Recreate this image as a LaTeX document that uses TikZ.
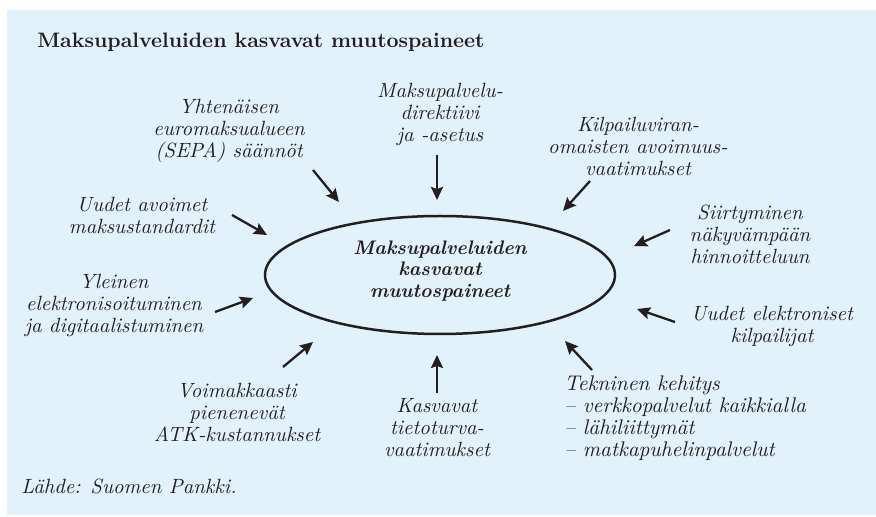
\documentclass[tikz,border=0pt]{standalone}
\usetikzlibrary{arrows.meta}
\usetikzlibrary{shapes}

\definecolor{panelblue}{RGB}{226,242,250}
\definecolor{inkgray}{RGB}{35,31,32}

\begin{document}
\begin{tikzpicture}[x = 0.5pt, y = -0.5pt, font=\rmfamily, color=inkgray]
	\tikzstyle{causeStyle} = [align = center, inner sep = 0pt, font = \fontsize{10.3}{11}\selectfont\itshape]
	\tikzstyle{listStyle} = [align = left, inner sep = 0pt, font = \fontsize{10.6}{11}\selectfont\itshape]
	\tikzstyle{coreStyle} = [shape = ellipse, draw, line width = 1.25pt, minimum width = 350pt*0.5, minimum height = 118pt*0.5, inner sep = 0pt]
	\tikzstyle{pushStyle} = [line width = 1.15pt, -{Stealth[length = 6.5pt, width = 6pt, inset = 1pt]}]
	\useasboundingbox (0,0) rectangle (876,517);
	\fill[panelblue] (7,10) rectangle (876,515);
	\node[anchor = base west, inner sep = 0pt, font = \fontsize{10.45}{14}\selectfont\bfseries] (title) at (37,48) {Maksupalveluiden kasvavat muutospaineet};
	\node[coreStyle] (core) at (440,275) {};
	\node[causeStyle, font = \fontsize{9.8}{10.8}\selectfont\bfseries\itshape] (coretext) at (440,271) {Maksupalveluiden\\kasvavat\\muutospaineet};
	\node[causeStyle] (sepa) at (229,131) {Yhtenäisen\\euromaksualueen\\(SEPA) säännöt};
	\node[causeStyle] (direktiivi) at (440,114) {Maksupalvelu-\\direktiivi\\ja -asetus};
	\node[causeStyle] (kilpailu) at (638,146) {Kilpailuviran-\\omaisten avoimuus-\\vaatimukset};
	\node[causeStyle] (hinnoittelu) at (750,234) {Siirtyminen\\näkyvämpään\\hinnoitteluun};
	\node[causeStyle] (standardit) at (142,215) {Uudet avoimet\\maksustandardit};
	\node[causeStyle] (digitaali) at (114,305) {Yleinen\\elektronisoituminen\\ja digitaalistuminen};
	\node[causeStyle] (kilpailijat) at (772,326) {Uudet elektroniset\\kilpailijat};
	\node[listStyle, anchor = west] (tekninen) at (564,418) {Tekninen kehitys\\-- verkkopalvelut kaikkialla\\-- lähiliittymät\\-- matkapuhelinpalvelut};
	\node[causeStyle] (tietoturva) at (437,428) {Kasvavat\\tietoturva-\\vaatimukset};
	\node[causeStyle] (atk) at (237,412) {Voimakkaasti\\pienenevät\\ATK-kustannukset};
	\node[anchor = base west, inner sep = 0pt, font = \fontsize{10.3}{11}\selectfont\itshape] (lahde) at (21,493) {Lähde: Suomen Pankki.};
	% arrow ends
	\coordinate (sepa-a) at (313,170);
	\coordinate (sepa-b) at (339,202);
	\coordinate (direktiivi-a) at (437,155);
	\coordinate (direktiivi-b) at (437,200);
	\coordinate (kilpailu-a) at (590,181);
	\coordinate (kilpailu-b) at (563,211);
	\coordinate (hinnoittelu-a) at (670,230);
	\coordinate (hinnoittelu-b) at (634,246);
	\coordinate (standardit-a) at (232,215);
	\coordinate (standardit-b) at (267,235);
	\coordinate (digitaali-a) at (215,312);
	\coordinate (digitaali-b) at (253,298);
	\coordinate (kilpailijat-a) at (675,322);
	\coordinate (kilpailijat-b) at (637,309);
	\coordinate (tekninen-a) at (592,370);
	\coordinate (tekninen-b) at (565,341);
	\coordinate (tietoturva-a) at (437,393);
	\coordinate (tietoturva-b) at (437,355);
	\coordinate (atk-a) at (283,367);
	\coordinate (atk-b) at (313,342);
	\foreach \cause in {sepa, direktiivi, kilpailu, hinnoittelu, standardit, digitaali, kilpailijat, tekninen, tietoturva, atk}
		\draw[pushStyle] (\cause-a) -- (\cause-b);
\end{tikzpicture}
\end{document}
